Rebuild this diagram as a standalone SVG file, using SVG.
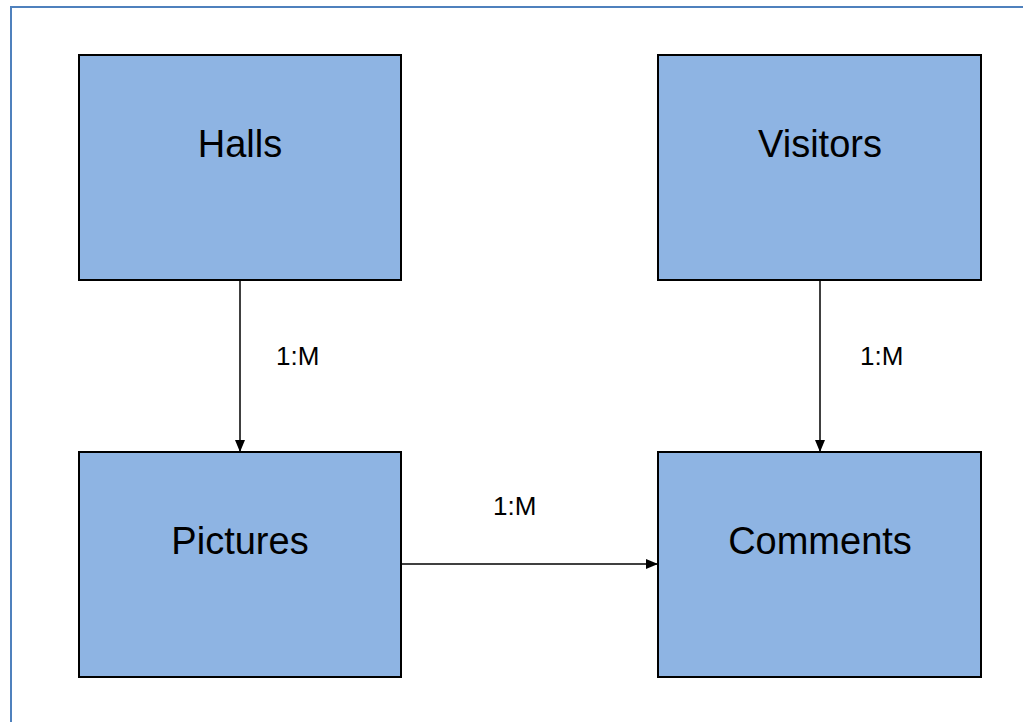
<svg xmlns="http://www.w3.org/2000/svg" width="1023" height="722" viewBox="0 0 1023 722">
<defs>
<style>
.box{fill:#8EB4E3;stroke:#000;stroke-width:2}
.name{font-family:"Liberation Sans",Arial,sans-serif;font-size:38px;fill:#000;text-anchor:middle}
.lbl{font-family:"Liberation Sans",Arial,sans-serif;font-size:26px;fill:#000}
.edge{stroke:#000;stroke-width:1.5;fill:none;marker-end:url(#arr)}
</style>
<marker id="arr" markerWidth="12" markerHeight="10" refX="11" refY="5" orient="auto" markerUnits="userSpaceOnUse">
<path d="M0,0 L12,5 L0,10 Z" fill="#000"/>
</marker>
</defs>
<rect x="0" y="0" width="1023" height="722" fill="#fff"/>
<rect x="11" y="7" width="1030" height="740" fill="none" stroke="#4F81BD" stroke-width="2"/>
<g id="halls"><rect class="box" x="79" y="55" width="322" height="225"/><text class="name" x="240" y="157">Halls</text></g>
<g id="visitors"><rect class="box" x="658" y="55" width="323" height="225"/><text class="name" x="820" y="157">Visitors</text></g>
<g id="pictures"><rect class="box" x="79" y="452" width="322" height="225"/><text class="name" x="240" y="554">Pictures</text></g>
<g id="comments"><rect class="box" x="658" y="452" width="323" height="225"/><text class="name" x="820" y="554">Comments</text></g>
<g id="connectors">
<line class="edge" x1="240" y1="281" x2="240" y2="451"/>
<line class="edge" x1="820" y1="281" x2="820" y2="451"/>
<line class="edge" x1="401" y1="564" x2="657" y2="564"/>
<text class="lbl" x="276" y="365">1:M</text>
<text class="lbl" x="860" y="365">1:M</text>
<text class="lbl" x="493" y="515">1:M</text>
</g>
</svg>
